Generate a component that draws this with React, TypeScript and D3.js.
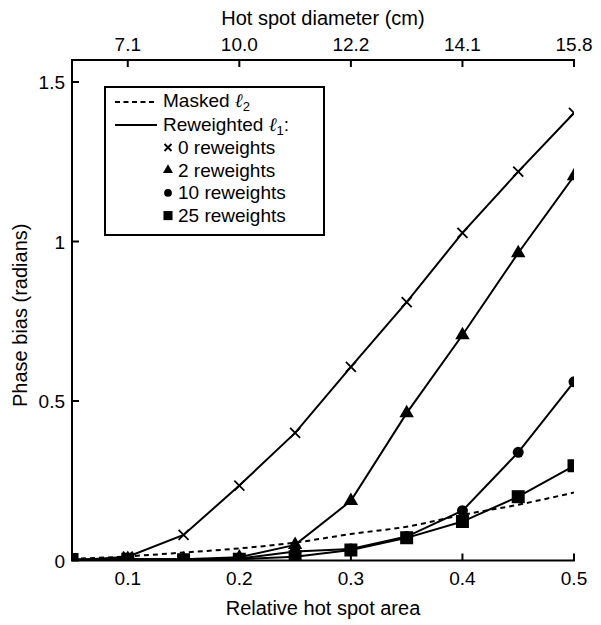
import React, { useEffect, useRef } from "react";
import * as d3 from "d3";

// relative hot spot area (x) and phase bias (radians)
const area = [0.05, 0.1, 0.15, 0.2, 0.25, 0.3, 0.35, 0.4, 0.45, 0.5];
const masked = [0.005, 0.013, 0.025, 0.038, 0.056, 0.083, 0.106, 0.143, 0.175, 0.213];
const rw0 = [0.0, 0.012, 0.08, 0.235, 0.4, 0.607, 0.81, 1.027, 1.219, 1.403];
const rw2 = [0.0, 0.005, 0.004, 0.01, 0.049, 0.187, 0.462, 0.707, 0.964, 1.205];
const rw10 = [0.003, 0.005, 0.003, 0.006, 0.028, 0.036, 0.075, 0.156, 0.339, 0.56];
const rw25 = [0.003, 0.004, 0.002, 0.004, 0.012, 0.033, 0.071, 0.122, 0.2, 0.297];

const bottomTicks = [0.1, 0.2, 0.3, 0.4, 0.5];
const topTickLabels = ["7.1", "10.0", "12.2", "14.1", "15.8"];
const yTicks = [0, 0.5, 1, 1.5];

const legendRows = ["0 reweights", "2 reweights", "10 reweights", "25 reweights"];

const FONT = "'Liberation Sans', Arial, Helvetica, sans-serif";

export default function App() {
  const ref = useRef<SVGSVGElement>(null);

  useEffect(() => {
    document.body.style.margin = "0";
    const svg = d3.select(ref.current);
    svg.selectAll("*").remove();

    const left = 72, right = 574, top = 60, bottom = 560.5;
    const x = d3.scaleLinear().domain([0.05, 0.5]).range([left, right]);
    const y = d3.scaleLinear().domain([0, 1.5]).range([bottom, bottom - 478.5]);

    svg.append("defs").append("clipPath").attr("id", "plotclip")
      .append("rect").attr("x", left).attr("y", top).attr("width", right - left).attr("height", bottom - top);

    const plot = svg.append("g").attr("clip-path", "url(#plotclip)");
    const line = d3.line<number>().x((d, i) => x(area[i])).y(d => y(d));

    // masked l2 dashed
    plot.append("path").attr("d", line.curve(d3.curveMonotoneX)(masked))
      .attr("fill", "none").attr("stroke", "#000").attr("stroke-width", 2).attr("stroke-dasharray", "5,4");

    line.curve(d3.curveLinear);
    const series = [rw0, rw2, rw10, rw25];
    series.forEach(s => {
      plot.append("path").attr("d", line(s)).attr("fill", "none").attr("stroke", "#000").attr("stroke-width", 2);
    });

    const drawMarker = (g: any, kind: number, cx: number, cy: number, k: number) => {
      if (kind === 0) {
        const h = 5 * k;
        g.append("path").attr("d", `M${cx - h},${cy - h}L${cx + h},${cy + h}M${cx - h},${cy + h}L${cx + h},${cy - h}`)
          .attr("stroke", "#000").attr("stroke-width", 1.8).attr("fill", "none");
      } else {
        const sym = [null, d3.symbolTriangle, d3.symbolCircle, d3.symbolSquare][kind];
        const size = [0, 90, 95, 169][kind] * k * k;
        g.append("path").attr("d", d3.symbol().type(sym as any).size(size)())
          .attr("transform", `translate(${cx},${cy})`).attr("fill", "#000");
      }
    };

    series.forEach((s, si) => {
      s.forEach((v, i) => drawMarker(plot, si, x(area[i]), y(v), 1));
    });

    // axes
    const axes = svg.append("g").attr("stroke", "#000").attr("stroke-width", 2);
    axes.append("path").attr("d", `M${left},${top}V${bottom}`).attr("fill", "none");
    axes.append("path").attr("d", `M${left - 1},${bottom}H${right + 1}`);
    axes.append("path").attr("d", `M${left - 1},${top}H${right + 1}`);
    bottomTicks.forEach(t => {
      axes.append("line").attr("x1", x(t)).attr("x2", x(t)).attr("y1", bottom).attr("y2", bottom - 7);
      axes.append("line").attr("x1", x(t)).attr("x2", x(t)).attr("y1", top).attr("y2", top + 7);
    });
    yTicks.forEach(t => {
      axes.append("line").attr("x1", left).attr("x2", left + 7).attr("y1", y(t)).attr("y2", y(t));
    });

    const text = svg.append("g").attr("font-family", FONT).attr("fill", "#000");
    bottomTicks.forEach(t => {
      text.append("text").attr("x", x(t)).attr("y", 585).attr("text-anchor", "middle")
        .attr("font-size", 19).text(d3.format(".1f")(t));
    });
    bottomTicks.forEach((t, i) => {
      text.append("text").attr("x", x(t)).attr("y", 51).attr("text-anchor", "middle")
        .attr("font-size", 19).text(topTickLabels[i]);
    });
    yTicks.forEach(t => {
      text.append("text").attr("x", 65).attr("y", y(t) + 7).attr("text-anchor", "end")
        .attr("font-size", 19).text(String(t));
    });
    text.append("text").attr("x", (left + right) / 2).attr("y", 615).attr("text-anchor", "middle")
      .attr("font-size", 20).text("Relative hot spot area");
    text.append("text").attr("x", (left + right) / 2).attr("y", 25).attr("text-anchor", "middle")
      .attr("font-size", 20).text("Hot spot diameter (cm)");
    text.append("text").attr("transform", `translate(27,${(top + bottom) / 2 + 5}) rotate(-90)`)
      .attr("text-anchor", "middle").attr("font-size", 20).text("Phase bias (radians)");

    // legend
    const lg = svg.append("g");
    lg.append("rect").attr("x", 105).attr("y", 87).attr("width", 219).attr("height", 148)
      .attr("fill", "#fff").attr("stroke", "#000").attr("stroke-width", 2);
    lg.append("line").attr("x1", 115).attr("x2", 155).attr("y1", 102).attr("y2", 102)
      .attr("stroke", "#000").attr("stroke-width", 2).attr("stroke-dasharray", "5,3.5");
    lg.append("line").attr("x1", 115).attr("x2", 157).attr("y1", 125).attr("y2", 125)
      .attr("stroke", "#000").attr("stroke-width", 2);
    const lt = lg.append("g").attr("font-family", FONT).attr("font-size", 19).attr("fill", "#000");
    const t1 = lt.append("text").attr("x", 163).attr("y", 107);
    t1.append("tspan").text("Masked ");
    t1.append("tspan").attr("font-style", "italic").attr("font-family", "'DejaVu Serif', serif").text("\u2113");
    t1.append("tspan").attr("font-size", 13).attr("dy", 4).text("2");
    const t2 = lt.append("text").attr("x", 163).attr("y", 131);
    t2.append("tspan").text("Reweighted ");
    t2.append("tspan").attr("font-style", "italic").attr("font-family", "'DejaVu Serif', serif").text("\u2113");
    t2.append("tspan").attr("font-size", 13).attr("dy", 4).text("1");
    t2.append("tspan").attr("dy", -4).text(":");
    legendRows.forEach((r, i) => {
      const by = 154 + i * 22.7;
      drawMarker(lg, i, 168, by - 6.5, 0.7);
      lt.append("text").attr("x", 178).attr("y", by).text(r);
    });
  }, []);

  return <svg ref={ref} width={601} height={625} style={{ display: "block", background: "#fff" }} />;
}
